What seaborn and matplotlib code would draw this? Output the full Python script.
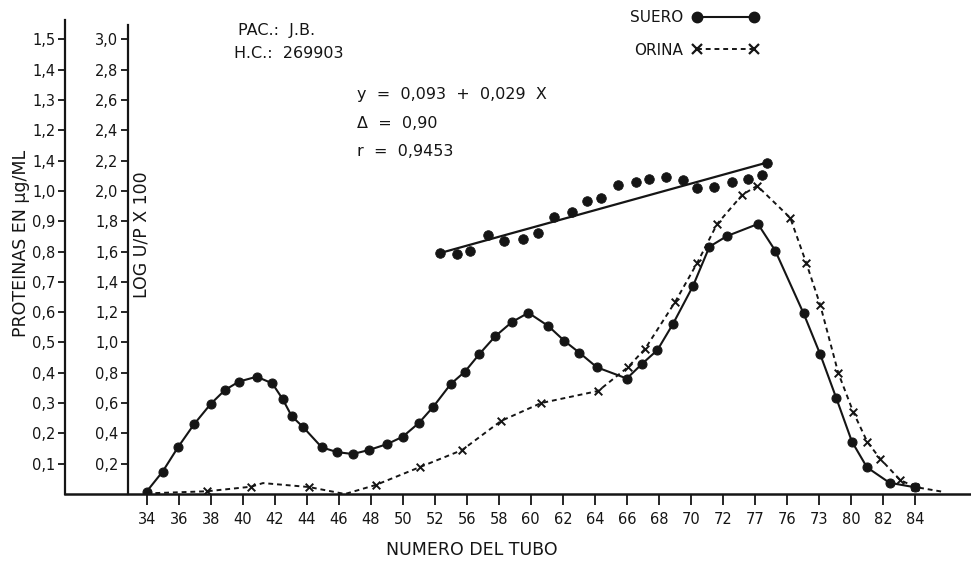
import matplotlib
matplotlib.use("Agg")
import matplotlib.pyplot as plt
import seaborn as sns
import numpy as np
import pandas as pd
from matplotlib.lines import Line2D

# ---------------- data ----------------
tick_labels = ["34", "36", "38", "40", "42", "44", "46", "48", "50", "52",
               "56", "58", "60", "62", "64", "66", "68", "70", "72",
               "77", "76", "73", "80", "82", "84"]
left_tick_vals = [0.1, 0.2, 0.3, 0.4, 0.5, 0.6, 0.7, 0.8, 0.9, 1.0, 1.1, 1.2, 1.3, 1.4, 1.5]
left_tick_labels = ["0,1", "0,2", "0,3", "0,4", "0,5", "0,6", "0,7", "0,8", "0,9",
                    "1,0", "1,4", "1,2", "1,3", "1,4", "1,5"]
inner_tick_vals = [0.2, 0.4, 0.6, 0.8, 1.0, 1.2, 1.4, 1.6, 1.8, 2.0, 2.2, 2.4, 2.6, 2.8, 3.0]
inner_tick_labels = ["0,2", "0,4", "0,6", "0,8", "1,0", "1,2", "1,4", "1,6", "1,8",
                     "2,0", "2,2", "2,4", "2,6", "2,8", "3,0"]

suero_x = [34.0, 35.0, 35.98, 36.96, 38.0, 38.89, 39.77, 40.88, 41.85, 42.5,
           43.06, 43.79, 44.94, 45.91, 46.88, 47.88, 49.04, 50.0, 51.02, 51.91,
           53.0, 53.89, 54.79, 55.77, 56.81, 57.85, 59.1, 60.1, 61.04, 62.13,
           64.0, 64.94, 65.91, 66.88, 68.13, 69.16, 70.25, 72.19, 73.27, 75.04,
           76.08, 77.08, 78.06, 79.0, 80.41, 82.02]
suero_y = [0.008, 0.074, 0.156, 0.230, 0.297, 0.343, 0.371, 0.387, 0.365, 0.313,
           0.257, 0.220, 0.154, 0.138, 0.132, 0.145, 0.165, 0.189, 0.235, 0.288,
           0.363, 0.404, 0.462, 0.520, 0.567, 0.598, 0.554, 0.505, 0.466, 0.418,
           0.381, 0.429, 0.475, 0.561, 0.686, 0.816, 0.851, 0.891, 0.803, 0.596,
           0.461, 0.317, 0.173, 0.088, 0.037, 0.022]

orina_x = [34.0, 37.77, 40.52, 41.27, 44.14, 46.39, 48.33, 51.08, 53.71, 56.14,
           58.64, 62.21, 64.08, 65.14, 67.02, 68.39, 69.64, 71.21, 72.14, 74.21,
           75.21, 76.08, 77.21, 78.14, 79.02, 79.83, 81.08, 82.02, 83.77]
orina_y = [0.002, 0.009, 0.024, 0.036, 0.023, 0.0, 0.030, 0.089, 0.145, 0.241,
           0.300, 0.340, 0.419, 0.479, 0.634, 0.762, 0.891, 0.987, 1.017, 0.911,
           0.762, 0.624, 0.399, 0.271, 0.172, 0.116, 0.046, 0.023, 0.007]
orina_mark = [False, True, True, False, True, False, True, True, True, True,
              True, True, True, True, True, True, True, True, True, True,
              True, True, True, True, True, True, True, True, False]

# LOG U/P x 100 (inner axis)
logup_x = [52.33, 53.41, 54.21, 55.35, 56.35, 57.5, 58.48, 59.46, 60.56, 61.5,
           62.38, 63.42, 64.58, 65.41, 66.46, 67.5, 68.41, 69.46, 70.56, 71.54,
           72.44, 72.75]
logup_y = [1.589, 1.584, 1.606, 1.709, 1.672, 1.681, 1.725, 1.830, 1.863, 1.936,
           1.956, 2.040, 2.061, 2.079, 2.090, 2.073, 2.018, 2.028, 2.057, 2.077,
           2.106, 2.187]
reg_x = [52.33, 72.75]
reg_y = [1.59, 2.187]

# ---------------- figure ----------------
sns.set_style("ticks")
plt.rcParams['font.family'] = ['DejaVu Sans']
ink = '#151515'

fig = plt.figure(figsize=(9.71, 5.61), dpi=100)
ax = fig.add_axes([65 / 971, 1 - 494 / 561, 906 / 971, 474 / 561])
ax.set_xlim(28.9, 85.5)
ax.set_ylim(0, 1.564)

ax2 = ax.twinx()
ax2.set_ylim(0, 2 * 1.564)

# serum
sns.lineplot(x=suero_x, y=suero_y, ax=ax, color=ink, lw=1.5, marker='o',
             markersize=6.5, markeredgecolor=ink, sort=False)
# urine
sns.lineplot(x=orina_x, y=orina_y, ax=ax, color=ink, lw=1.4, linestyle=(0, (2.5, 2)),
             sort=False)
df_or = pd.DataFrame({"x": orina_x, "y": orina_y, "m": orina_mark})
df_m = df_or[df_or["m"]]
sns.scatterplot(x=df_m["x"], y=df_m["y"], ax=ax, marker='x', s=30, color=ink,
                linewidth=1.4, zorder=4)

# log U/P dots and regression line
sns.scatterplot(x=logup_x, y=logup_y, ax=ax2, color=ink, s=48, edgecolor=ink, zorder=4)
sns.lineplot(x=reg_x, y=reg_y, ax=ax2, color=ink, lw=1.6)

# ---------------- axes styling ----------------
for a in (ax, ax2):
    a.spines['top'].set_visible(False)
    a.spines['right'].set_visible(False)
ax2.spines['bottom'].set_visible(False)
ax.spines['left'].set_linewidth(1.6)
ax.spines['bottom'].set_linewidth(1.8)
ax.spines['left'].set_color(ink)
ax.spines['bottom'].set_color(ink)

ax.set_xticks([34 + 2 * i for i in range(len(tick_labels))])
ax.set_xticklabels(tick_labels)
ax.set_yticks(left_tick_vals)
ax.set_yticklabels(left_tick_labels)
ax.tick_params(axis='x', direction='out', length=8, width=1.3, pad=5,
               labelsize=10.5, colors=ink)
ax.tick_params(axis='y', direction='out', length=5, width=1.3, pad=2,
               labelsize=10.5, colors=ink)

ax2.spines['left'].set_visible(True)
ax2.spines['left'].set_position(('axes', 63 / 906))
ax2.spines['left'].set_bounds(0, 3.096)
ax2.spines['left'].set_linewidth(1.6)
ax2.spines['left'].set_color(ink)
ax2.yaxis.set_ticks_position('left')
ax2.yaxis.set_label_position('left')
ax2.set_yticks(inner_tick_vals)
ax2.set_yticklabels(inner_tick_labels)
ax2.tick_params(axis='y', direction='out', length=5, width=1.3, pad=2,
                labelsize=10.5, colors=ink)

lfs = 12.5
ax.set_xlabel("NUMERO DEL TUBO", fontsize=lfs, color=ink)
ax.xaxis.set_label_coords((472 - 65) / 906, -(541 - 494) / 474)
ax.set_ylabel("PROTEINAS EN µg/ML", fontsize=lfs, color=ink)
ax.yaxis.set_label_coords((30 - 65) / 906, (494 - 243) / 474)
ax2.set_ylabel("LOG U/P X 100", fontsize=lfs, color=ink, rotation=90)
ax2.yaxis.set_label_coords((150 - 65) / 906, (494 - 235) / 474)

# annotations
afs = 11.5
ax.text((238 - 65) / 906, (494 - 31) / 474, "PAC.:  J.B.", transform=ax.transAxes,
        fontsize=afs, color=ink, va='center', ha='left')
ax.text((234 - 65) / 906, (494 - 53) / 474, "H.C.:  269903", transform=ax.transAxes,
        fontsize=afs, color=ink, va='center', ha='left')
ax.text((357 - 65) / 906, (494 - 95) / 474, "y  =  0,093  +  0,029  X", transform=ax.transAxes,
        fontsize=afs, color=ink, va='center', ha='left')
ax.text((357 - 65) / 906, (494 - 124) / 474, "Δ  =  0,90", transform=ax.transAxes,
        fontsize=afs, color=ink, va='center', ha='left')
ax.text((357 - 65) / 906, (494 - 151) / 474, "r  =  0,9453", transform=ax.transAxes,
        fontsize=afs, color=ink, va='center', ha='left')

# legend
handles = [Line2D([], [], color=ink, lw=1.5, marker='o', markersize=7.5),
           Line2D([], [], color=ink, lw=1.4, linestyle=(0, (2.5, 2)), marker='x',
                  markersize=7.5, markeredgewidth=1.6)]
leg = ax.legend(handles, ["SUERO", "ORINA"], loc='upper left',
                bbox_to_anchor=((624 - 65) / 906, (494 - 4) / 474),
                frameon=False, numpoints=2, markerfirst=False, handlelength=4.3,
                handletextpad=0.6, labelspacing=1.15, fontsize=11, borderaxespad=0)
for t in leg.get_texts():
    t.set_color(ink)

fig.savefig("out.png", dpi=100, facecolor='white')
